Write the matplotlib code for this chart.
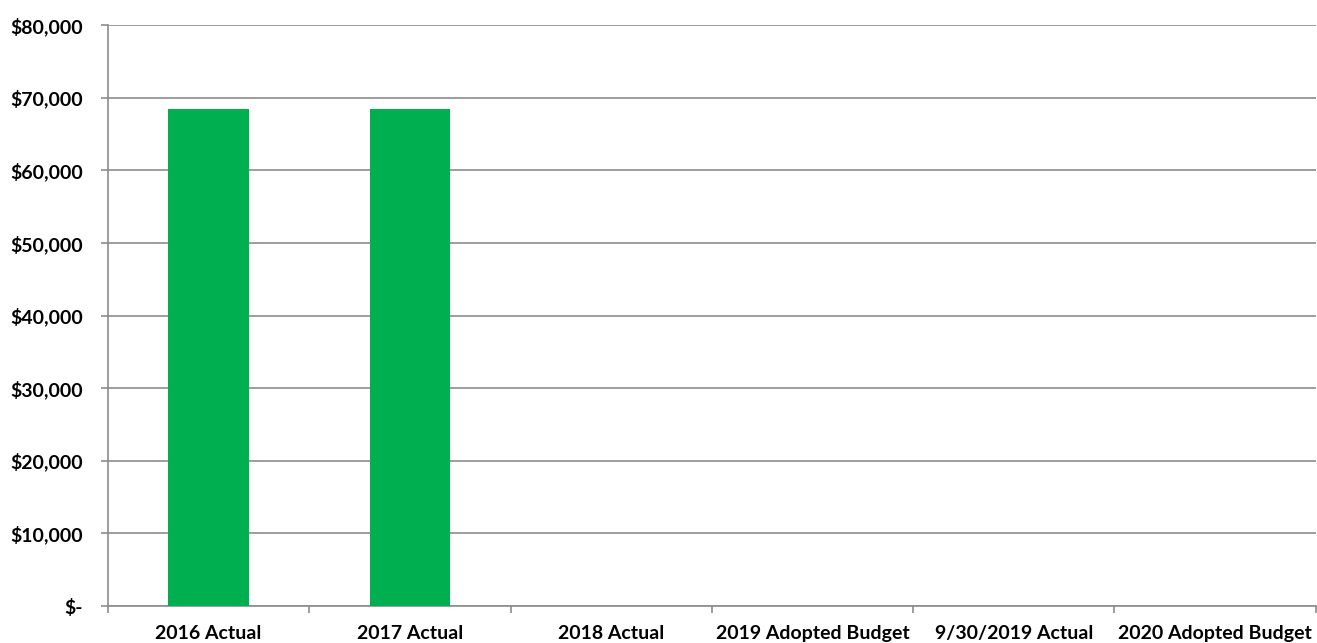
import matplotlib.pyplot as plt
from matplotlib.ticker import FuncFormatter

plt.rcParams['font.family'] = ['Lato', 'DejaVu Sans']

categories = ["2016 Actual", "2017 Actual", "2018 Actual", "2019 Adopted Budget",
              "9/30/2019 Actual", "2020 Adopted Budget"]
values = [68500, 68500, 0, 0, 0, 0]

fig = plt.figure(figsize=(13.17, 6.43), dpi=100)
ax = fig.add_axes([0.082, 0.0575, 0.917, 0.9035])

x = range(len(categories))
ax.bar(x, values, width=0.4, color='#00B050', zorder=3)

ax.set_xlim(-0.5, len(categories) - 0.5)
ax.set_ylim(0, 80000)
ax.set_yticks(range(0, 80001, 10000))


def money(v, pos):
    if v == 0:
        return '$-'
    return '${:,.0f}'.format(v)


ax.yaxis.set_major_formatter(FuncFormatter(money))
ax.yaxis.grid(True, color='#8c8c8c', linewidth=1.2, zorder=0)

# category ticks sit on boundaries, labels at centers
ax.set_xticks([i - 0.5 for i in range(len(categories) + 1)])
ax.set_xticklabels([])
ax.set_xticks(list(x), minor=True)
ax.set_xticklabels(categories, minor=True)
ax.tick_params(axis='x', which='minor', length=0, pad=14)
ax.tick_params(axis='x', which='major', length=5, color='#8c8c8c', width=1.2)
ax.tick_params(axis='y', length=5, color='#8c8c8c', width=1.2, pad=13)

for lab in ax.get_xticklabels(minor=True) + ax.get_yticklabels():
    lab.set_fontweight('bold')
    lab.set_fontsize(14)

for s in ['top', 'right']:
    ax.spines[s].set_visible(False)
for s in ['left', 'bottom']:
    ax.spines[s].set_color('#8c8c8c')
    ax.spines[s].set_linewidth(1.2)

fig.savefig('out.png', dpi=100)
